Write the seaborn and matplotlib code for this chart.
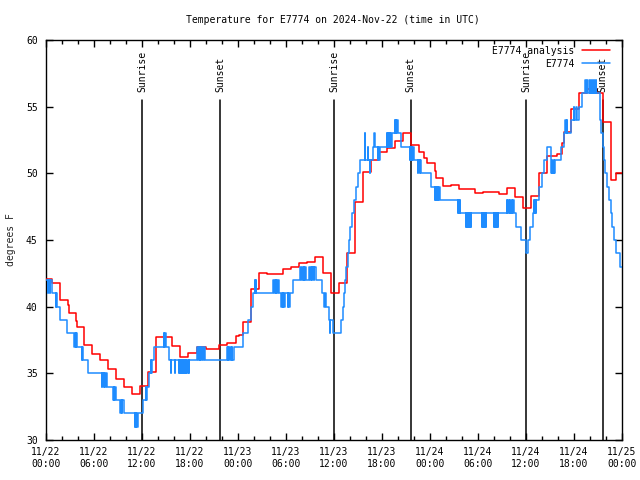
import matplotlib
matplotlib.use('Agg')
import pandas as pd
import matplotlib.pyplot as plt
import matplotlib.dates as mdates
import seaborn as sns

# hours after 2024-11-22 00:00 UTC
red_hours = [0.0, 0.7, 1.75, 2.7, 2.85, 3.75, 3.85, 4.75, 5.7, 6.75, 7.8, 8.8, 9.8, 10.8,
             11.75, 12.7, 13.75, 15.7, 16.75, 17.75, 18.9, 20.0, 21.6, 22.6, 23.75, 24.1,
             24.6, 25.6, 26.6, 27.6, 29.6, 30.6, 31.6, 32.6, 33.6, 34.6, 35.6, 36.6, 37.6,
             38.6, 39.6, 40.6, 41.6, 42.6, 43.6, 44.6, 45.6, 46.6, 47.2, 47.6, 48.6, 48.7,
             49.6, 50.6, 51.6, 53.6, 54.6, 56.6, 57.6, 58.6, 59.6, 60.6, 61.6, 62.6, 63.9,
             64.5, 64.7, 65.6, 66.6, 67.6, 68.9, 69.6, 70.6, 71.25, 72.0]
red_temps = [42.1, 41.8, 40.5, 40.1, 39.5, 38.9, 38.5, 37.1, 36.45, 36.0, 35.3, 34.6, 34.0, 33.45,
             34.05, 35.1, 37.7, 37.05, 36.25, 36.5, 37.0, 36.85, 37.1, 37.3, 37.8, 37.9,
             38.85, 41.3, 42.5, 42.45, 42.85, 43.0, 43.3, 43.35, 43.7, 42.5, 41.0, 41.8, 44.0,
             47.85, 50.1, 51.0, 51.6, 51.9, 52.4, 53.0, 52.1, 51.6, 51.15, 50.8, 50.2, 49.65,
             49.05, 49.1, 48.8, 48.5, 48.6, 48.45, 48.9, 48.2, 47.4, 48.3, 50.0, 51.3, 51.45,
             52.3, 53.1, 54.8, 56.0, 56.3, 56.0, 53.85, 49.5, 50.0, 50.0]

# station obs (hour, degF)
station_obs = [
    (0.00, 42), (0.25, 41), (0.30, 42), (0.45, 41), (0.50, 42),
    (0.75, 41), (1.20, 40), (1.25, 41), (1.35, 40),
    (1.75, 39), (2.60, 38), (3.55, 37), (3.60, 38), (3.70, 37), (3.75, 38), (3.85, 37),
    (4.50, 36), (4.55, 37), (4.65, 36), (5.20, 35), (5.25, 36), (5.30, 35),
    (7.00, 34), (7.05, 35), (7.20, 34), (7.25, 35), (7.40, 34), (7.45, 35), (7.60, 34),
    (8.40, 33), (8.45, 34), (8.55, 33), (8.60, 34), (8.75, 33),
    (9.30, 32), (9.35, 33), (9.50, 32), (9.55, 33), (9.75, 32),
    (11.10, 31), (11.15, 32), (11.25, 31), (11.30, 32), (11.40, 31), (11.45, 32),
    (12.10, 33), (12.50, 34), (12.55, 33), (12.65, 34), (12.85, 35), (13.10, 36),
    (13.15, 35), (13.30, 36), (13.55, 37),
    (14.75, 38), (14.80, 37), (14.90, 38), (14.95, 37),
    (15.40, 36), (15.60, 35), (15.65, 36), (16.10, 35), (16.15, 36),
    (16.60, 35), (16.65, 36), (16.75, 35), (16.80, 36), (16.90, 35), (16.95, 36),
    (17.05, 35), (17.10, 36), (17.20, 35), (17.25, 36), (17.35, 35), (17.40, 36),
    (17.50, 35), (17.55, 36), (17.65, 35), (17.70, 36), (17.85, 35), (17.90, 36),
    (18.90, 37), (19.00, 36), (19.10, 37), (19.20, 36), (19.30, 37), (19.40, 36),
    (19.50, 37), (19.60, 36), (19.70, 37), (19.85, 36),
    (22.60, 37), (22.70, 36), (22.80, 37), (22.90, 36), (23.00, 37), (23.10, 36),
    (23.20, 37), (23.30, 36), (23.45, 37),
    (24.60, 38), (25.30, 39), (25.60, 40), (25.90, 41), (26.10, 42), (26.15, 41),
    (26.25, 42), (26.30, 41),
    (28.40, 42), (28.50, 41), (28.60, 42), (28.70, 41), (28.80, 42), (28.90, 41),
    (29.00, 42), (29.10, 41),
    (29.40, 40), (29.45, 41), (29.60, 40), (29.65, 41), (29.80, 40), (29.85, 41),
    (30.20, 40), (30.25, 41), (30.40, 40), (30.45, 41),
    (30.90, 42), (31.80, 43), (31.90, 42), (32.00, 43), (32.10, 42), (32.20, 43),
    (32.30, 42), (32.40, 43), (32.50, 42),
    (32.90, 43), (33.00, 42), (33.10, 43), (33.20, 42), (33.30, 43), (33.45, 42),
    (33.55, 43), (33.70, 42),
    (34.50, 41), (34.80, 40), (34.85, 41), (35.00, 40), (35.40, 39), (35.50, 38),
    (35.55, 39), (35.90, 38),
    (36.90, 39), (37.10, 40), (37.25, 41), (37.40, 42), (37.55, 43), (37.70, 44),
    (37.85, 45), (38.00, 46), (38.20, 47), (38.45, 48),
    (38.75, 49), (39.00, 50), (39.20, 51), (39.85, 53), (39.90, 51), (40.20, 52),
    (40.30, 51), (40.50, 50), (40.55, 51), (40.90, 52), (41.05, 53), (41.10, 52),
    (41.50, 51), (41.55, 52), (41.65, 51), (41.70, 52),
    (42.60, 53), (42.65, 52), (42.75, 53), (42.80, 52), (42.90, 53), (42.95, 52),
    (43.05, 53), (43.10, 52), (43.20, 53),
    (43.60, 54), (43.65, 53), (43.75, 54), (43.80, 53), (43.90, 54), (44.00, 53),
    (44.35, 52), (45.50, 51), (45.55, 52), (45.65, 51), (45.70, 52), (45.80, 51),
    (45.85, 52), (46.00, 51), (46.50, 50), (46.55, 51), (46.70, 50), (46.75, 51),
    (46.90, 50),
    (48.10, 49), (48.60, 48), (48.65, 49), (48.75, 48), (48.80, 49), (48.90, 48),
    (48.95, 49), (49.05, 48), (49.10, 49), (49.25, 48),
    (51.50, 47), (51.55, 48), (51.65, 47), (51.70, 48), (51.80, 47),
    (52.50, 46), (52.55, 47), (52.65, 46), (52.70, 47), (52.80, 46), (52.85, 47),
    (52.95, 46), (53.00, 47), (53.10, 46), (53.15, 47),
    (54.50, 46), (54.55, 47), (54.65, 46), (54.70, 47), (54.80, 46), (54.85, 47),
    (54.95, 46), (55.00, 47),
    (56.00, 46), (56.05, 47), (56.15, 46), (56.20, 47), (56.30, 46), (56.35, 47),
    (56.45, 46), (56.50, 47),
    (57.60, 48), (57.65, 47), (57.80, 48), (57.85, 47), (58.00, 48), (58.05, 47),
    (58.20, 48), (58.25, 47), (58.40, 48), (58.50, 47),
    (58.80, 46), (59.40, 45), (60.00, 44), (60.20, 45), (60.50, 46), (60.90, 47),
    (61.00, 48), (61.05, 47), (61.15, 48), (61.20, 47), (61.30, 48),
    (61.60, 49), (62.00, 50), (62.30, 51), (62.60, 52), (63.10, 51), (63.15, 50),
    (63.25, 51), (63.30, 50), (63.45, 51), (63.50, 50), (63.60, 51),
    (64.40, 52), (64.70, 53), (64.90, 54), (64.95, 53), (65.10, 54), (65.15, 53),
    (65.60, 54), (66.00, 55), (66.05, 54), (66.30, 55), (66.35, 54), (66.60, 55),
    (67.00, 56), (67.40, 57), (67.50, 56), (67.60, 57), (67.80, 56), (68.00, 57),
    (68.05, 56), (68.20, 57), (68.25, 56), (68.50, 57), (68.55, 56), (68.70, 57),
    (68.75, 56),
    (69.20, 54), (69.40, 53), (69.60, 52), (69.75, 51), (69.90, 50), (70.10, 49),
    (70.40, 48), (70.60, 47), (70.80, 46), (71.00, 45), (71.30, 44), (71.70, 43),
    (72.00, 43),
]

sun_hours = [12.0, 21.75, 36.0, 45.6, 60.0, 69.6]
sun_labels = ['Sunrise', 'Sunset', 'Sunrise', 'Sunset', 'Sunrise', 'Sunset']

start = pd.Timestamp('2024-11-22 00:00')
red_time = start + pd.to_timedelta(red_hours, unit='h')
obs_time = start + pd.to_timedelta([h for h, _ in station_obs], unit='h')
obs_temp = [t for _, t in station_obs]

sns.set_style('ticks', {'axes.edgecolor': 'black', 'text.color': 'black',
                        'xtick.color': 'black', 'ytick.color': 'black'})
plt.rcParams['font.family'] = ['DejaVu Sans Mono', 'DejaVu Sans']
plt.rcParams['font.size'] = 7

fig = plt.figure(figsize=(6.4, 4.8), dpi=100)
ax = fig.add_axes([46 / 640, 40 / 480, 576 / 640, 400 / 480])

sns.lineplot(x=red_time, y=red_temps, ax=ax, color='red', lw=1.1,
             drawstyle='steps-post', estimator=None, label='E7774 analysis', zorder=3)
sns.lineplot(x=obs_time, y=obs_temp, ax=ax, color='#1e8cff', lw=1.1,
             drawstyle='steps-post', estimator=None, label='E7774', zorder=4)

# sunrise / sunset markers
for h, lbl in zip(sun_hours, sun_labels):
    t = start + pd.Timedelta(hours=h)
    ax.axvline(t, ymin=0, ymax=0.85, color='black', lw=1.1, zorder=2)
    ax.text(t, 0.87, lbl, transform=ax.get_xaxis_transform(), rotation=90,
            ha='center', va='bottom', fontsize=7)

ax.set_xlim(start, start + pd.Timedelta(hours=72))
ax.set_ylim(30, 60)
ax.xaxis.set_major_locator(mdates.HourLocator(byhour=[0, 6, 12, 18]))
ax.xaxis.set_minor_locator(mdates.HourLocator(interval=2))
ax.xaxis.set_major_formatter(mdates.DateFormatter('%m/%d\n%H:%M'))
ax.set_yticks(range(30, 61, 5))
ax.tick_params(which='both', direction='in', top=True, right=True, labelsize=7)
ax.tick_params(which='major', length=5, width=1)
ax.tick_params(which='minor', length=3, width=1)
ax.tick_params(axis='x', pad=5)
ax.tick_params(axis='y', pad=6)
for s in ax.spines.values():
    s.set_linewidth(1)

ax.set_xlabel('')
ax.set_ylabel('degrees F', fontsize=7)
ax.yaxis.set_label_coords(-0.052, 0.5)

ax.legend(loc='upper right', bbox_to_anchor=(1 - 5 / 576, 1 + 1 / 400),
          frameon=False, markerfirst=False, fontsize=7,
          handlelength=2.9, labelspacing=0.3, borderaxespad=0.3, handletextpad=0.8)

fig.text(0.52, 1 - 20 / 480, 'Temperature for E7774 on 2024-Nov-22 (time in UTC)',
         ha='center', va='center', fontsize=7)

fig.savefig('out.png', dpi=100)
